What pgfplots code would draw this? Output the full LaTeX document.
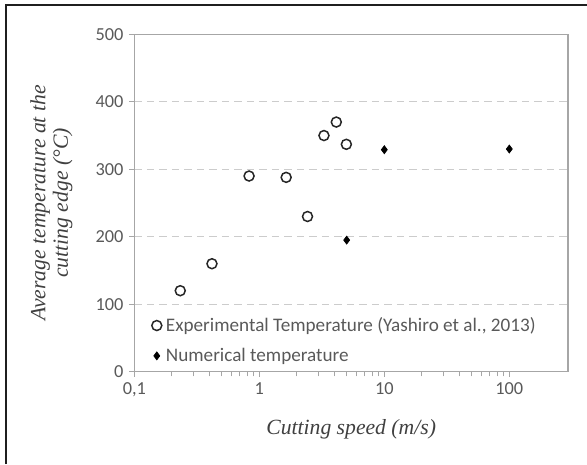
\documentclass[border=0pt]{standalone}
\usepackage{pgfplots}
\pgfplotsset{compat=1.18}
\usepackage{fontspec}
\setmainfont{Carlito}
\newfontfamily\labelfont{Liberation Serif}
\definecolor{axisgray}{HTML}{A6A6A6}
\definecolor{gridgray}{HTML}{CCCCCC}
\definecolor{ticktext}{HTML}{595959}
\definecolor{labeltext}{HTML}{404040}
\definecolor{markdark}{HTML}{262626}

\begin{document}
\begin{tikzpicture}
  % page: 587 x 464 px, 1 px = 0.6pt
  \useasboundingbox (0pt,0pt) rectangle (352.2pt,278.4pt);
  \draw[line width=1.2pt, black!88] (3.6pt,0pt) -- (3.6pt,275.4pt) -- (352.2pt,275.4pt);

  \begin{axis}[
    at={(80.6pt,55.4pt)},
    anchor=south west,
    scale only axis,
    width=260.2pt,
    height=202.4pt,
    xmode=log,
    xmin=0.1, xmax=295,
    ymin=0, ymax=500,
    xtick={0.1,1,10,100},
    xticklabels={{0,1},1,10,100},
    minor xtick={},
    ytick={0,100,200,300,400,500},
    xtick pos=bottom,
    ytick pos=left,
    tick align=outside,
    major tick length=3pt,
    tick style={axisgray, line width=0.6pt},
    axis line style={axisgray, line width=0.7pt},
    ymajorgrids,
    major grid style={gridgray, line width=0.6pt, dash pattern=on 4.5pt off 3pt},
    /pgf/number format/assume math mode=true,
    ticklabel style={font=\fontsize{11}{13}\selectfont, text=ticktext},
    xlabel={Cutting speed (m/s)},
    ylabel={Average temperature at the\\cutting edge (°C)},
    label style={font=\labelfont\itshape\fontsize{13}{13.5}\selectfont, text=labeltext},
    xlabel style={at={(axis description cs:0.5,-0.172)}, anchor=center},
    ylabel style={at={(axis description cs:-0.191,0.5)}, anchor=center, align=center},
    legend style={
      draw=none, fill=none,
      at={(0.028,0.182)}, anchor=north west,
      font=\fontsize{11.5}{13}\selectfont, text=ticktext,
      row sep=4.5pt,
      nodes={inner xsep=2.5pt},
    },
    legend cell align=left,
    legend image code/.code={\draw[mark repeat=2,mark phase=2,#1] plot coordinates {(0cm,0cm) (0.15cm,0cm) (0.3cm,0cm)};},
  ]
    \addplot[only marks, mark=o, mark size=3pt, mark options={markdark, line width=0.9pt, fill=white}]
      coordinates {
        (0.233,120) (0.418,160) (0.828,290) (1.64,288) (2.43,230)
        (3.29,350) (4.13,370) (4.97,337)
      };
    \addplot[only marks, mark=diamond*, mark size=2.4pt, mark options={black, fill=black}]
      coordinates {
        (5,195) (10,329) (100,330)
      };
    \legend{{Experimental Temperature (Yashiro et al., 2013)}, {Numerical temperature}}
  \end{axis}
\end{tikzpicture}
\end{document}
